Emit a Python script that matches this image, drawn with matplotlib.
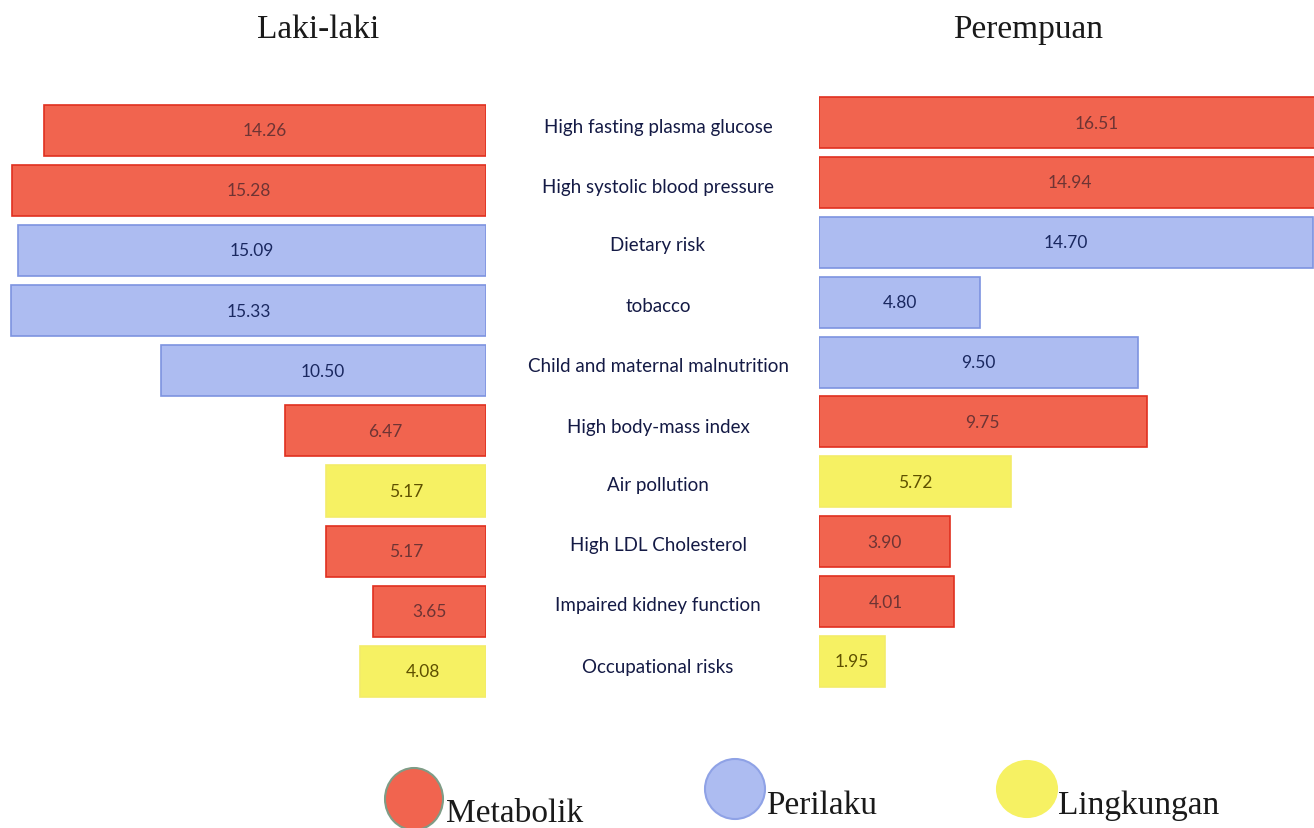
import matplotlib.pyplot as plt
from matplotlib.patches import Ellipse

factors = ['High fasting plasma glucose', 'High systolic blood pressure', 'Dietary risk',
           'tobacco', 'Child and maternal malnutrition', 'High body-mass index',
           'Air pollution', 'High LDL Cholesterol', 'Impaired kidney function',
           'Occupational risks']
groups = ['Metabolik', 'Metabolik', 'Perilaku', 'Perilaku', 'Perilaku', 'Metabolik',
          'Lingkungan', 'Metabolik', 'Metabolik', 'Lingkungan']
male = [14.26, 15.28, 15.09, 15.33, 10.50, 6.47, 5.17, 5.17, 3.65, 4.08]
female = [16.51, 14.94, 14.70, 4.80, 9.50, 9.75, 5.72, 3.90, 4.01, 1.95]

fill = {'Metabolik': '#f1644f', 'Perilaku': '#adbcf1', 'Lingkungan': '#f6f163'}
edge = {'Metabolik': '#e0301f', 'Perilaku': '#7d93e0', 'Lingkungan': '#f3ec6a'}
txt = {'Metabolik': '#6e3434', 'Perilaku': '#1a2860', 'Lingkungan': '#5e5000'}

W, H = 1314, 829
fig = plt.figure(figsize=(13.14, 8.29), dpi=100)

# left panel (men), bars grow to the left
axl = fig.add_axes([0, 1 - 702.5 / H, 486 / W, 601.5 / H])
# right panel (women), runs past the figure edge so long bars get cut off
axr = fig.add_axes([819 / W, 1 - 692.4 / H, 561 / W, 598.8 / H])

ypos = list(range(len(factors)))
for ax, vals in ((axl, male), (axr, female)):
    cols = [fill[g] for g in groups]
    ecols = [edge[g] for g in groups]
    bars = ax.barh(ypos, vals, height=0.85, color=cols, edgecolor=ecols, linewidth=1.2)
    for b, v, g in zip(bars, vals, groups):
        ax.text(v / 2, b.get_y() + b.get_height() / 2, f'{v:.2f}', ha='center', va='center',
                fontsize=12.5, family='Lato', color=txt[g])
    ax.set_ylim(len(factors) - 0.5, -0.5)
    ax.axis('off')

axl.set_xlim(486 / 31.0, 0)
axr.set_xlim(0, 561 / 33.6)

# category names between the panels
label_y = [127, 187, 246, 307, 366, 427, 486, 546, 606, 668]
for name, y in zip(factors, label_y):
    fig.text(658 / W, 1 - y / H, name, ha='center', va='center', fontsize=13.5,
             family='Lato', color='#141a45')

fig.text(318 / W, 1 - 30 / H, 'Laki-laki', ha='center', va='center', fontsize=24,
         family='Liberation Serif', color='#1a1a1a')
fig.text(1028 / W, 1 - 30 / H, 'Perempuan', ha='center', va='center', fontsize=24,
         family='Liberation Serif', color='#1a1a1a')

# legend with round markers
lax = fig.add_axes([0, 0, 1, 1])
lax.set_xlim(0, W)
lax.set_ylim(H, 0)
lax.axis('off')
markers = [(414, 800, 58, 62, '#7f9c86'), (735, 790, 60, 60, '#8fa2e6'), (1027, 790, 60, 56, '#f6f163')]
label_pos = [(446, 822), (766, 814), (1058, 814)]
for (cx, cy, w, h, ec), (tx, ty), g in zip(markers, label_pos, ['Metabolik', 'Perilaku', 'Lingkungan']):
    lax.add_patch(Ellipse((cx, cy), w, h, facecolor=fill[g], edgecolor=ec, linewidth=1.5))
    lax.text(tx, ty, g, ha='left', va='baseline', fontsize=24, family='Liberation Serif',
             color='#1a1a1a')

fig.savefig('out.png', dpi=100, facecolor='white')
